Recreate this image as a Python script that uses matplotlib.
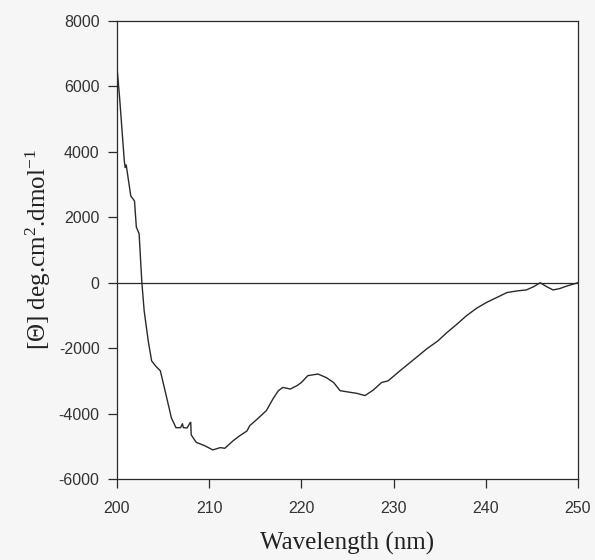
import matplotlib.pyplot as plt

# CD spectrum
wavelength = [200.0, 200.3, 200.8, 200.9, 201.0, 201.5, 201.9, 202.1, 202.4, 202.7,
              202.95, 203.4, 203.76, 204.2, 204.7, 205.3, 205.9, 206.4, 206.9, 207.1,
              207.2, 207.6, 207.95, 208.0, 208.05, 208.6, 209.5, 210.4, 211.2, 211.7,
              212.6, 213.3, 214.1, 214.4, 215.2, 215.7, 216.2, 216.9, 217.5, 218.0,
              218.8, 219.5, 220.0, 220.7, 221.8, 222.7, 223.5, 224.2, 225.3, 226.0,
              226.9, 227.8, 228.7, 229.4, 230.7, 232.7, 233.6, 234.8, 235.8, 236.9,
              237.9, 239.0, 240.1, 241.2, 242.3, 243.4, 244.4, 245.2, 245.9, 246.6,
              247.3, 248.0, 248.8, 250.0]
theta = [6600, 5600, 3700, 3520, 3600, 2650, 2500, 1700, 1500, 0,
         -860, -1800, -2390, -2550, -2690, -3400, -4130, -4430, -4430, -4310,
         -4430, -4440, -4270, -4270, -4650, -4880, -4980, -5110, -5040, -5060,
         -4830, -4680, -4530, -4370, -4170, -4040, -3910, -3560, -3300, -3200,
         -3250, -3150, -3050, -2840, -2790, -2900, -3050, -3300, -3350, -3380,
         -3450, -3280, -3050, -3000, -2690, -2230, -2020, -1780, -1520, -1260,
         -1010, -780, -600, -450, -300, -250, -220, -120, 0, -120,
         -220, -180, -100, 0]

x_ticks = [200, 210, 220, 230, 240, 250]
y_ticks = [-6000, -4000, -2000, 0, 2000, 4000, 6000, 8000]

plt.rcParams['axes.unicode_minus'] = False
plt.rcParams['mathtext.fontset'] = 'custom'
plt.rcParams['mathtext.rm'] = 'Liberation Serif'
plt.rcParams['mathtext.it'] = 'Liberation Serif:italic'

fig = plt.figure(figsize=(5.95, 5.6), dpi=100, facecolor='#f6f6f6')
ax = fig.add_axes([0.1966, 0.1446, 0.7748, 0.8179])
ax.set_facecolor('white')

ax.plot(wavelength, theta, color='#2a2a2a', lw=1.0)
ax.axhline(0, color='#2a2a2a', lw=0.9)

ax.set_xlim(200, 250)
ax.set_ylim(-6000, 8000)
ax.set_xticks(x_ticks)
ax.set_yticks(y_ticks)
ax.tick_params(direction='out', length=6.5, width=0.9, colors='#2a2a2a',
               labelsize=11.5, labelcolor='#333333')
ax.tick_params(axis='x', pad=9)
ax.tick_params(axis='y', pad=6)
for lab in ax.get_xticklabels() + ax.get_yticklabels():
    lab.set_family('Liberation Sans')
for sp in ax.spines.values():
    sp.set_color('#2a2a2a')
    sp.set_linewidth(0.9)

ax.set_xlabel('Wavelength (nm)', family='Liberation Serif', fontsize=18,
              color='#222222', labelpad=12)
ax.set_ylabel(r'[$\Theta$] deg.cm$^2$.dmol$^{-1}$', family='Liberation Serif',
              fontsize=18, color='#222222', labelpad=4)

fig.savefig('out.png', dpi=100, facecolor=fig.get_facecolor())
